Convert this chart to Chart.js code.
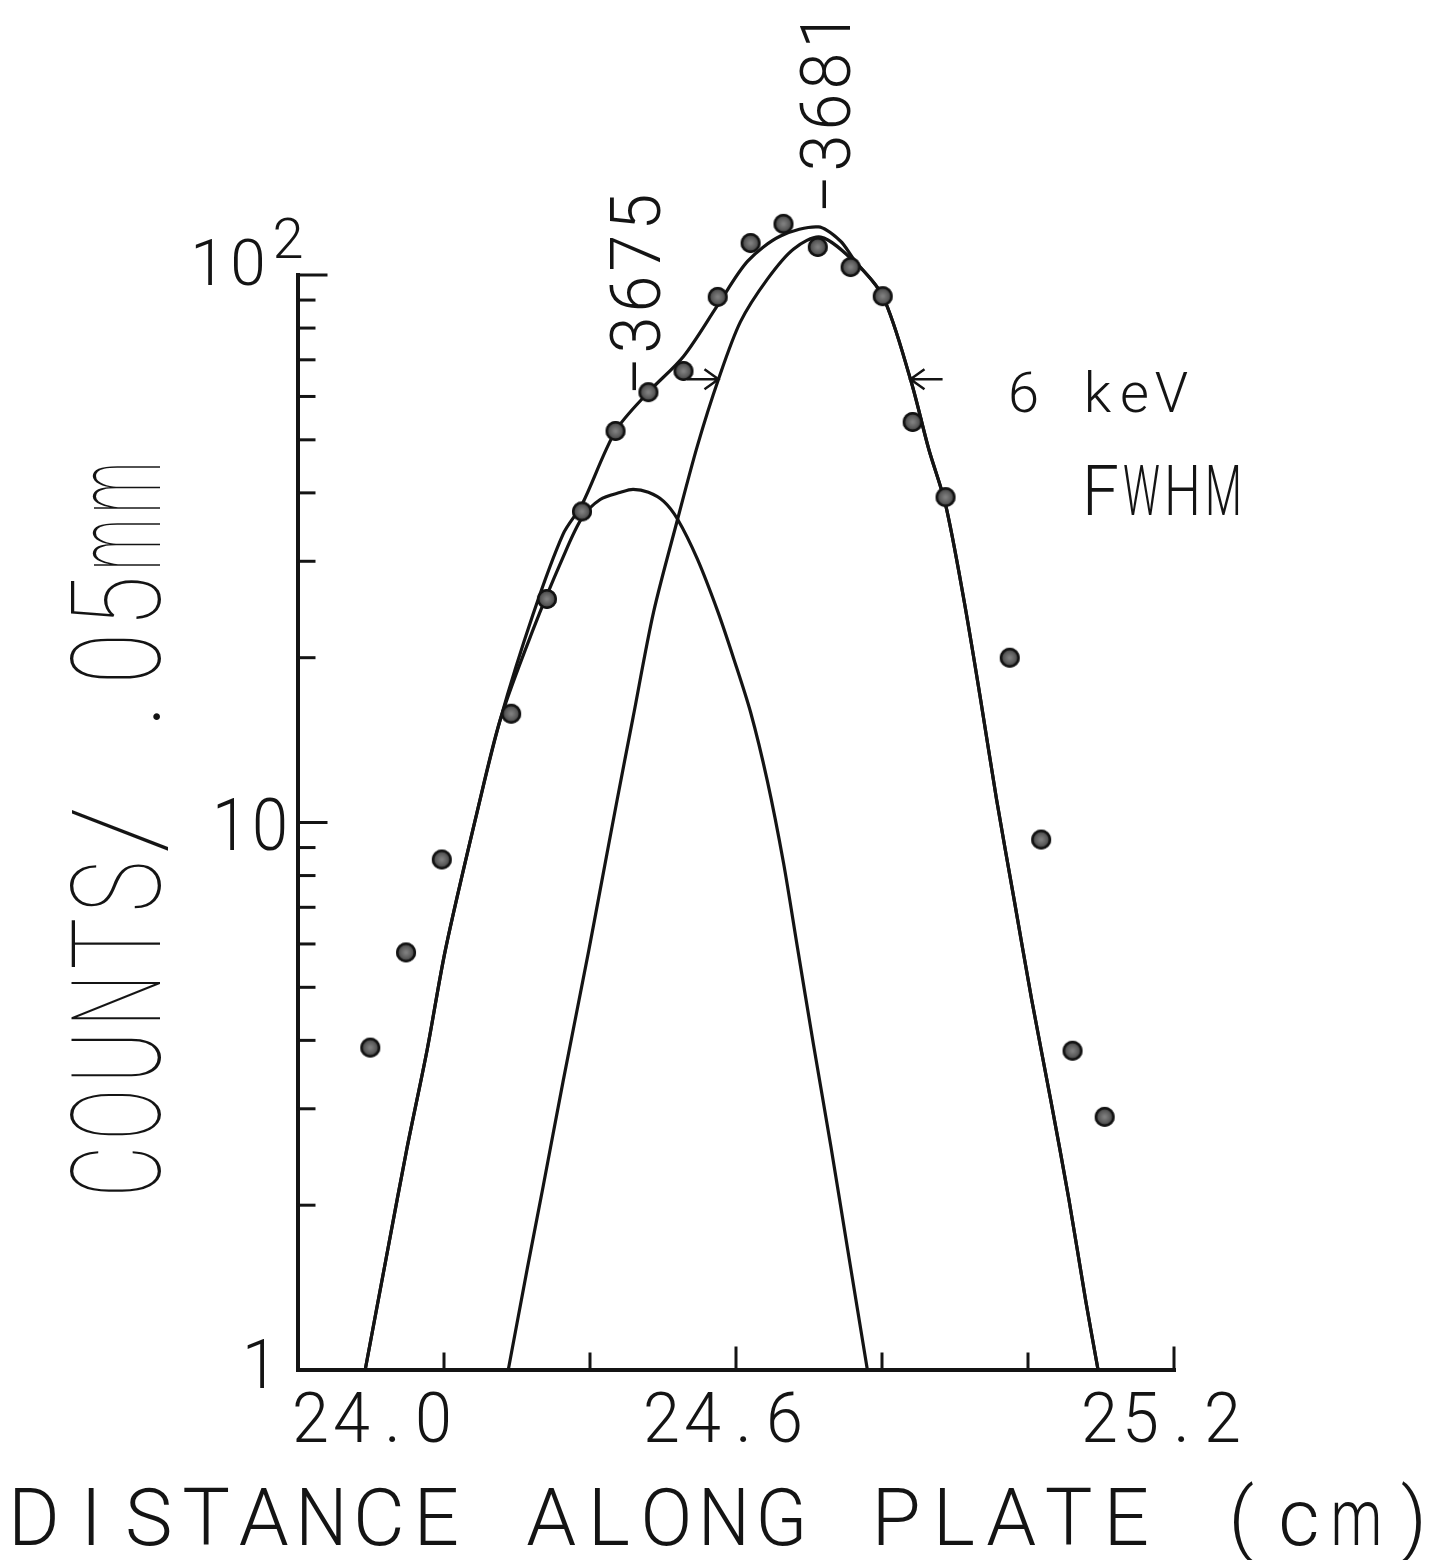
<!DOCTYPE html>
<html>
<head>
<meta charset="utf-8">
<title>Counts along plate</title>
<script src="https://cdn.jsdelivr.net/npm/chart.js@4.4.1/dist/chart.umd.min.js"></script>
<style>
  html, body { margin: 0; padding: 0; background: #fff; }
  #wrap { width: 1433px; height: 1560px; }
</style>
</head>
<body>
<div id="wrap"><canvas id="plateChart" width="1433" height="1560"></canvas></div>
<script>
// measured counts per .05 mm step
var posCm = [24.099, 24.148, 24.197, 24.292, 24.341, 24.389, 24.435, 24.480, 24.528, 24.575, 24.620,
             24.665, 24.712, 24.757, 24.801, 24.842, 24.887, 24.975, 25.018, 25.061, 25.105];
var counts = [3.88, 5.79, 8.56, 15.8, 25.6, 37.0, 51.9, 61.1, 66.8, 91.2, 114.4,
              124, 112.5, 103.4, 91.5, 53.9, 39.3, 20.0, 9.31, 3.83, 2.90];

// fitted total
var sumX = [24.092, 24.123, 24.149, 24.177, 24.202, 24.245, 24.277, 24.322, 24.363, 24.389, 24.435,
            24.480, 24.528, 24.575, 24.616, 24.661, 24.713, 24.743, 24.761, 24.801, 24.839, 24.864,
            24.887, 24.912, 24.935, 24.957, 24.981, 25.005, 25.031, 25.056, 25.079, 25.096];
var sumY = [1.0, 1.66, 2.53, 3.85, 5.86, 10.4, 15.4, 24.0, 33.6, 38.1, 51.9,
            61.1, 71.0, 88.1, 106, 117.8, 122.4, 115.4, 107, 91.5, 64.5, 48.1,
            38.1, 25.6, 16.8, 11.0, 7.23, 4.75, 3.12, 2.05, 1.34, 1.0];

// 3675 component
var c75X = [24.092, 24.123, 24.149, 24.177, 24.202, 24.245, 24.277, 24.322, 24.363, 24.389, 24.414,
            24.442, 24.459, 24.480, 24.501, 24.520, 24.547, 24.575, 24.597, 24.620, 24.643, 24.665,
            24.684, 24.706, 24.730, 24.753, 24.780];
var c75Y = [1.0, 1.66, 2.53, 3.85, 5.86, 10.4, 15.4, 22.5, 30.5, 36.0, 38.9,
            40.1, 40.6, 40.1, 38.6, 35.8, 30.3, 24.3, 19.9, 15.9, 11.9, 8.45,
            5.93, 3.94, 2.56, 1.66, 1.0];

// 3681 component
var c81X = [24.288, 24.314, 24.336, 24.363, 24.398, 24.414, 24.437, 24.459, 24.487, 24.520, 24.547,
            24.576, 24.606, 24.643, 24.679, 24.716, 24.761, 24.801, 24.839, 24.864, 24.887, 24.912,
            24.935, 24.957, 24.981, 25.005, 25.031, 25.056, 25.079, 25.096];
var c81Y = [1.0, 1.53, 2.17, 3.36, 5.81, 7.54, 10.97, 15.56, 24.2, 35.8, 48.7,
            64.5, 82.1, 98.3, 111.6, 117.3, 106.1, 91.5, 64.5, 48.1, 38.1, 25.6,
            16.8, 11.0, 7.23, 4.75, 3.12, 2.05, 1.34, 1.0];

var xTicks = [24.0, 24.2, 24.4, 24.6, 24.8, 25.0, 25.2];
var xTickLabels = [24.0, 24.6, 25.2];
var yTicks = [1, 2, 3, 4, 5, 6, 7, 8, 9, 10, 20, 30, 40, 50, 60, 70, 80, 90, 100];
var yTop = 100;       // frame stops here, dots above it still show
var peaks = [{ name: '3675', x: 24.46, y: 60 }, { name: '3681', x: 24.72, y: 129 }];
var fwhm = { level: 64.5, tails: [24.533, 24.883], tips: [24.576, 24.839] };

var FONT = 'Roboto, "DejaVu Sans", sans-serif';
var INK = '#141414';

function pairs(xs, ys) {
    return xs.map(function (x, i) { return { x: x, y: ys[i] }; });
}

// plotter style lettering: every glyph centred in a fixed cell,
// squeezed sideways when it is too wide for the cell
function plotText(ctx, text, x, y, cell, size, weight) {
    ctx.font = (weight || 300) + ' ' + size + 'px ' + FONT;
    ctx.textAlign = 'center';
    ctx.textBaseline = 'alphabetic';
    for (var i = 0; i < text.length; i++) {
        var ch = text[i];
        var w = ctx.measureText(ch).width;
        var k = Math.min(1, cell * 0.9 / Math.max(w, 1));
        ctx.save();
        ctx.translate(x + cell * i + cell / 2, y);
        ctx.scale(k, 1);
        ctx.fillText(ch, 0, 0);
        ctx.restore();
    }
}

// dot marker, grey speckled middle with a dark rim
function makeDot(r) {
    var c = document.createElement('canvas');
    c.width = c.height = r * 2 + 4;
    var g = c.getContext('2d');
    var m = r + 2;
    var grad = g.createRadialGradient(m, m, 1, m, m, r);
    grad.addColorStop(0, '#7e7e7e');
    grad.addColorStop(0.55, '#5a5a5a');
    grad.addColorStop(1, '#222');
    g.fillStyle = grad;
    g.beginPath(); g.arc(m, m, r, 0, Math.PI * 2); g.fill();
    g.lineWidth = 2.5; g.strokeStyle = '#121212';
    g.beginPath(); g.arc(m, m, r - 1.2, 0, Math.PI * 2); g.stroke();
    return c;
}

var plotterFrame = {
    id: 'plotterFrame',
    beforeDatasetsDraw: function (chart) {
        var ctx = chart.ctx, xs = chart.scales.x, ys = chart.scales.y;
        var x0 = xs.getPixelForValue(24.0), x1 = xs.getPixelForValue(25.2);
        var yb = ys.getPixelForValue(1), yt = ys.getPixelForValue(yTop);
        ctx.save();
        ctx.strokeStyle = INK;
        ctx.lineCap = 'square';
        ctx.lineWidth = 4;
        ctx.beginPath();
        ctx.moveTo(x0, yt); ctx.lineTo(x0, yb); ctx.lineTo(x1, yb);
        ctx.stroke();

        ctx.lineWidth = 3;
        yTicks.forEach(function (v) {
            if (v === 1) return;
            var py = ys.getPixelForValue(v);
            var len = (v === 10 || v === 100) ? 28 : 16;
            ctx.beginPath(); ctx.moveTo(x0, py); ctx.lineTo(x0 + len, py); ctx.stroke();
        });
        xTicks.forEach(function (v) {
            if (v === 24.0) return;
            var px = xs.getPixelForValue(v);
            var len = xTickLabels.indexOf(v) >= 0 ? 22 : 16;
            ctx.beginPath(); ctx.moveTo(px, yb); ctx.lineTo(px, yb - len); ctx.stroke();
        });
        ctx.restore();
    },
    afterDraw: function (chart) {
        var ctx = chart.ctx, xs = chart.scales.x, ys = chart.scales.y;
        var x0 = xs.getPixelForValue(24.0);
        var yb = ys.getPixelForValue(1);
        ctx.save();
        ctx.fillStyle = INK;
        ctx.strokeStyle = INK;

        // x tick labels
        xTickLabels.forEach(function (v) {
            var px = xs.getPixelForValue(v);
            var left = Math.max(px - 95, x0 - 8);
            plotText(ctx, v.toFixed(1), left, yb + 72, 41, 70);
        });

        // y tick labels
        plotText(ctx, '1', x0 - 58, ys.getPixelForValue(1) + 18, 40, 68);
        plotText(ctx, '10', x0 - 88, ys.getPixelForValue(10) + 27, 40, 72);
        plotText(ctx, '10', x0 - 110, ys.getPixelForValue(100) + 10, 40, 64);
        plotText(ctx, '2', x0 - 30, ys.getPixelForValue(100) - 17, 40, 56);

        // axis titles
        plotText(ctx, 'DISTANCE ALONG PLATE (cm)', 5, 1545, 57.5, 80);
        ctx.save();
        ctx.translate(160, 1200);
        ctx.rotate(-Math.PI / 2);
        plotText(ctx, 'COUNTS/ .05mm', 0, 0, 57, 125, 100);
        ctx.restore();

        // peak labels
        peaks.forEach(function (p) {
            ctx.save();
            ctx.translate(xs.getPixelForValue(p.x) + 26, ys.getPixelForValue(p.y));
            ctx.rotate(-Math.PI / 2);
            plotText(ctx, '\u2013' + p.name, 0, 0, 41, 70);
            ctx.restore();
        });

        // FWHM markers
        var py = ys.getPixelForValue(fwhm.level);
        ctx.lineWidth = 2.5;
        fwhm.tips.forEach(function (t, i) {
            var tip = xs.getPixelForValue(t), tail = xs.getPixelForValue(fwhm.tails[i]);
            var dir = tip > tail ? -1 : 1;
            ctx.beginPath();
            ctx.moveTo(tail, py); ctx.lineTo(tip, py);
            ctx.moveTo(tip + dir * 14, py - 10); ctx.lineTo(tip, py); ctx.lineTo(tip + dir * 14, py + 10);
            ctx.stroke();
        });
        plotText(ctx, '6 keV', 1005, 412, 37, 56);
        plotText(ctx, 'FWHM', 1080, 515, 41, 70);
        ctx.restore();
    }
};

var curveStyle = {
    showLine: true,
    borderColor: INK,
    borderWidth: 3.2,
    pointRadius: 0,
    tension: 0.3,
    clip: false
};

new Chart(document.getElementById('plateChart').getContext('2d'), {
    type: 'scatter',
    data: {
        datasets: [
            {
                label: 'Counts',
                data: pairs(posCm, counts),
                pointStyle: makeDot(10),
                pointRadius: 10,
                showLine: false,
                clip: false
            },
            Object.assign({ label: 'Total', data: pairs(sumX, sumY) }, curveStyle),
            Object.assign({ label: '3675', data: pairs(c75X, c75Y) }, curveStyle),
            Object.assign({ label: '3681', data: pairs(c81X, c81Y) }, curveStyle)
        ]
    },
    options: {
        responsive: false,
        animation: false,
        devicePixelRatio: 1,
        events: [],
        // y runs to 140 so the top dots sit inside the area; 100 lands at 275px
        layout: { padding: { left: 298, top: 195, right: 259, bottom: 190 } },
        scales: {
            x: { type: 'linear', min: 24.0, max: 25.2, display: false },
            y: { type: 'logarithmic', min: 1, max: 140, display: false }
        },
        plugins: {
            legend: { display: false },
            tooltip: { enabled: false }
        }
    },
    plugins: [plotterFrame]
});
</script>
</body>
</html>
